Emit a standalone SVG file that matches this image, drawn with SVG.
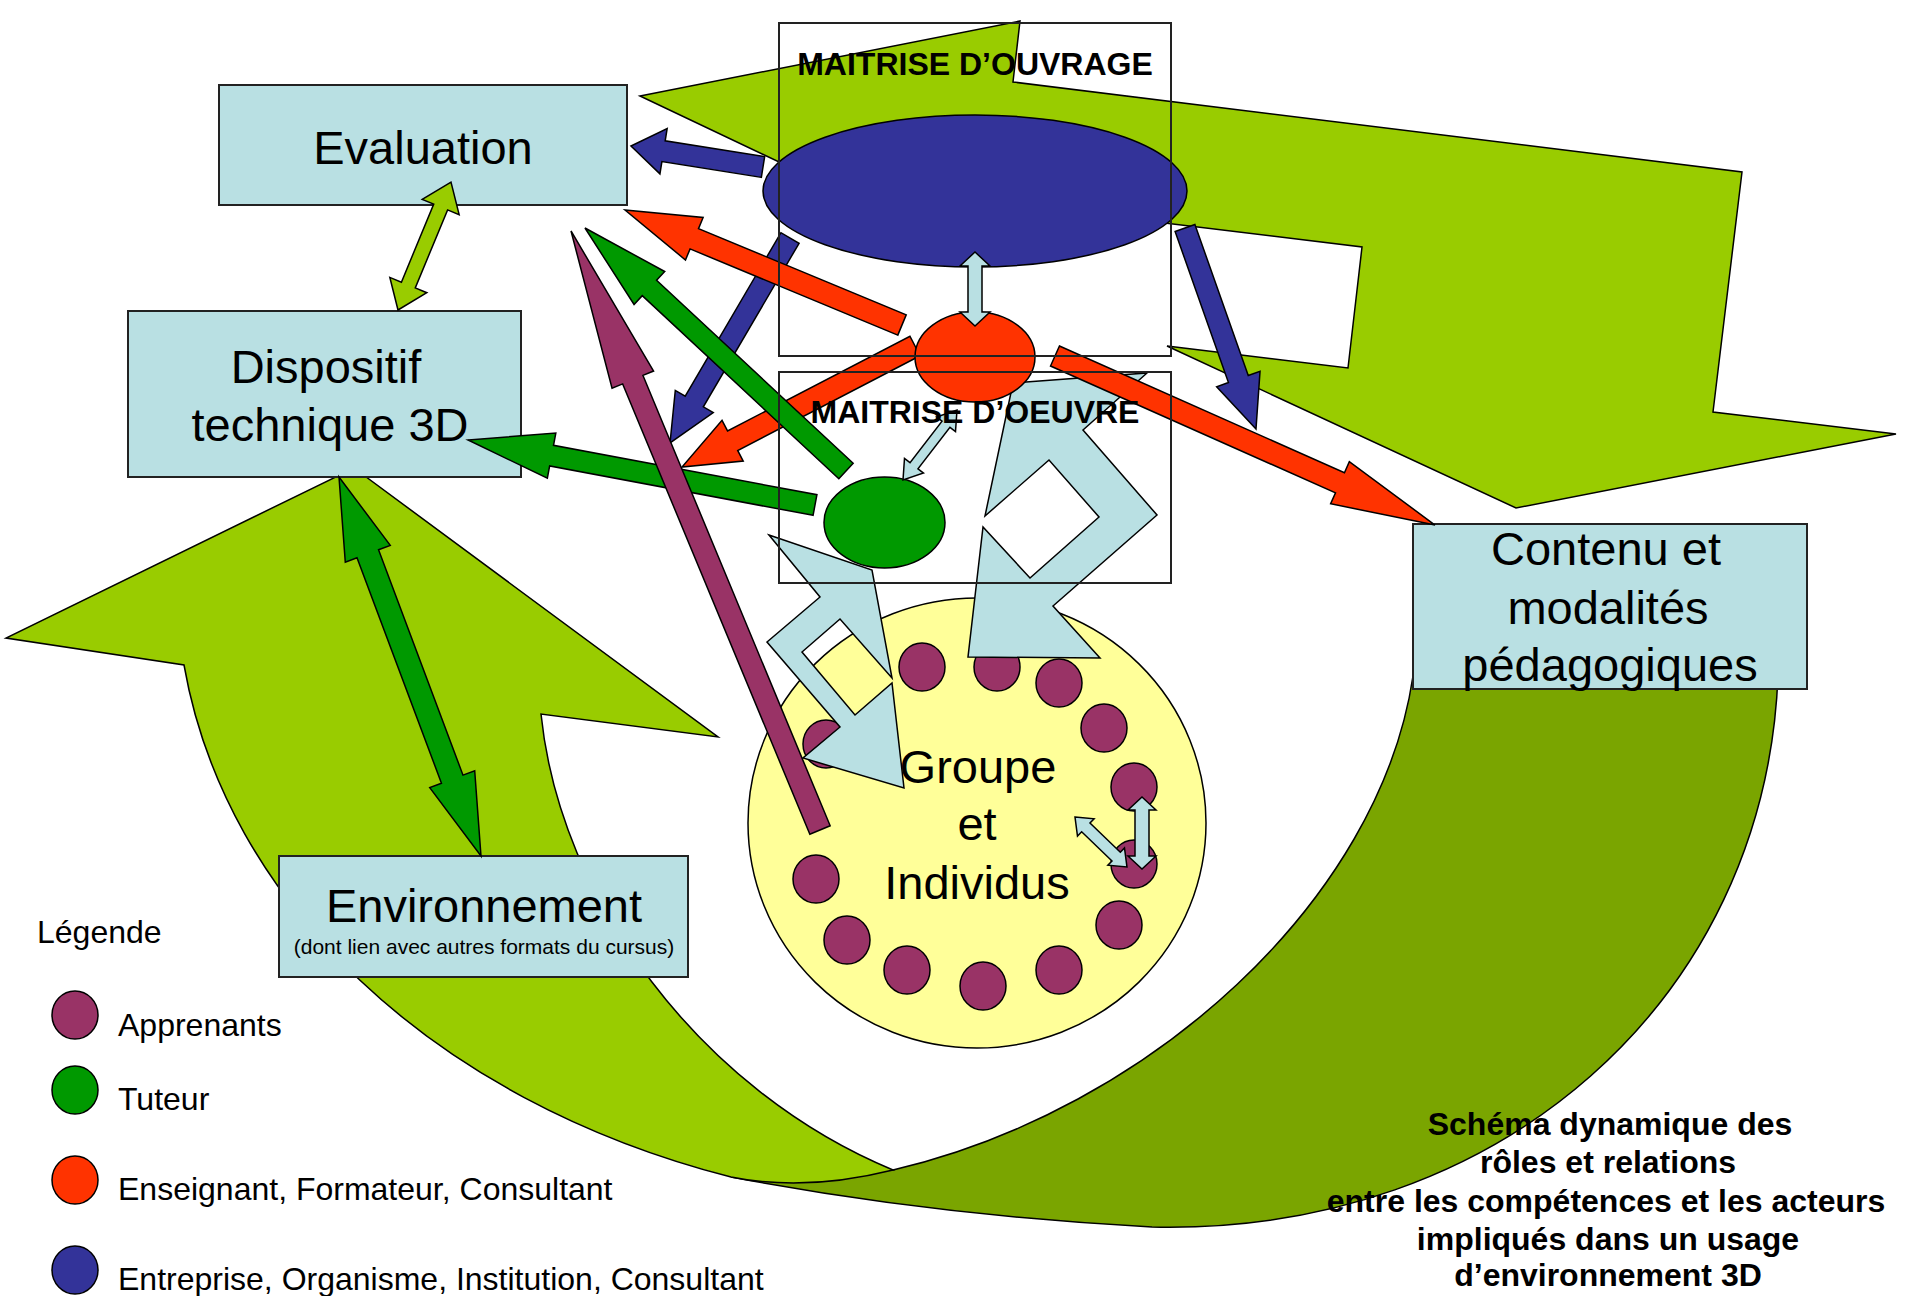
<svg xmlns="http://www.w3.org/2000/svg" width="1905" height="1296" viewBox="0 0 1905 1296">
<style>
.box{fill:#B9E0E3;stroke:#222;stroke-width:2}
.frame{fill:none;stroke:#222;stroke-width:2}
.sh{stroke:#000;stroke-width:1.5;stroke-linejoin:miter}
.t{font-family:"Liberation Sans",Arial,sans-serif;fill:#000}
.big{font-size:47px;text-anchor:middle}
.lg{font-size:32px}
.mt{font-size:32px;font-weight:bold;text-anchor:middle}
.ttl{font-size:32px;font-weight:bold;text-anchor:middle}
.lb{fill:#B9E0E3}
.lgreen{fill:#99CC00}
.dgreen{fill:#7AA500}
.blue{fill:#333399}
.red{fill:#FF3300}
.green{fill:#009900}
.purple{fill:#993366}
.dot{fill:#993366;stroke:#000;stroke-width:1.5}
</style>
<rect width="1905" height="1296" fill="#ffffff"/>

<g id="flux-cycle">
<path class="sh dgreen" d="M1413,676 L1778,676 C1765,1000 1500,1235 1152,1227 Q930,1215 731,1177 L893,1170 C1150,1110 1380,900 1413,676 Z"/>
<path class="sh lgreen" d="M354,468 L718,737 L541,714 C560,900 700,1090 893,1170 Q805,1192 731,1177 C430,1100 225,900 184,665 L6,638 Z"/>
<path class="sh lgreen" d="M640,96 L1020,21 L1013,82 L1742,172 L1713,412 L1896,434 L1516,508 L1167,346 L1348,368 L1362,247 L1007,204 L990,262 Z"/>
</g>

<g id="node-evaluation">
<rect class="box" x="219" y="85" width="408" height="120"/>
<text class="t big" x="423" y="164">Evaluation</text>
</g>
<g id="node-dispositif">
<rect class="box" x="128" y="311" width="393" height="166"/>
<text class="t big" x="326" y="383">Dispositif</text>
<text class="t big" x="330" y="441">technique 3D</text>
</g>
<g id="node-environnement">
<rect class="box" x="279" y="856" width="409" height="121"/>
<text class="t big" x="484" y="922">Environnement</text>
<text class="t" x="484" y="954" font-size="21" text-anchor="middle">(dont lien avec autres formats du cursus)</text>
</g>
<g id="node-contenu">
<rect class="box" x="1413" y="524" width="394" height="165"/>
<text class="t big" x="1606" y="565">Contenu et</text>
<text class="t big" x="1608" y="624">modalités</text>
<text class="t big" x="1610" y="681">pédagogiques</text>
</g>

<g id="node-groupe">
<ellipse cx="977" cy="823" rx="229" ry="225" fill="#FFFF99" stroke="#000" stroke-width="1.5"/>
<ellipse class="dot" cx="922" cy="667" rx="23" ry="24"/>
<ellipse class="dot" cx="997" cy="667" rx="23" ry="24"/>
<ellipse class="dot" cx="1059" cy="683" rx="23" ry="24"/>
<ellipse class="dot" cx="1104" cy="728" rx="23" ry="24"/>
<ellipse class="dot" cx="1134" cy="787" rx="23" ry="24"/>
<ellipse class="dot" cx="1134" cy="864" rx="23" ry="24"/>
<ellipse class="dot" cx="1119" cy="925" rx="23" ry="24"/>
<ellipse class="dot" cx="1059" cy="970" rx="23" ry="24"/>
<ellipse class="dot" cx="983" cy="986" rx="23" ry="24"/>
<ellipse class="dot" cx="907" cy="970" rx="23" ry="24"/>
<ellipse class="dot" cx="847" cy="940" rx="23" ry="24"/>
<ellipse class="dot" cx="816" cy="879" rx="23" ry="24"/>
<ellipse class="dot" cx="826" cy="744" rx="23" ry="24"/>
<text class="t big" x="978" y="783">Groupe</text>
<text class="t big" x="977" y="840">et</text>
<text class="t big" x="977" y="899">Individus</text>
</g>

<g id="acteur-entreprise">
<ellipse class="sh blue" cx="975" cy="191" rx="212" ry="76"/>
</g>

<g id="echanges-groupe">
<polygon class="sh lb" points="769,535 872,570 892,678 840,619 802,652 855,715 892,683 904,788 803,758 840,727 767,642 820,597"/>
<polygon class="sh lb" points="1013,383 1147,373 1083,430 1157,515 1053,606 1100,658 968,657 983,527 1030,578 1099,517 1049,460 985,516"/>
</g>

<g id="acteur-tuteur">
<ellipse class="sh green" cx="884.5" cy="522.5" rx="60.5" ry="45.5"/>
</g>

<g id="connectors">
<polygon class="sh blue" transform="translate(763,167) rotate(-170.96)" points="0,-10.5 100.7,-10.5 100.7,-23 133.7,0 100.7,23 100.7,10.5 0,10.5"/>
<polygon class="sh blue" transform="translate(790,238) rotate(120.34)" points="0,-10.5 189.5,-10.5 189.5,-22 237.5,0 189.5,22 189.5,10.5 0,10.5"/>
<polygon class="sh blue" transform="translate(1185,228) rotate(70.55)" points="0,-10.5 160.2,-10.5 160.2,-23 213.2,0 160.2,23 160.2,10.5 0,10.5"/>
<polygon class="sh green" transform="translate(815,505) rotate(-169.39)" points="0,-10.5 268,-10.5 268,-23 353,0 268,23 268,10.5 0,10.5"/>
<polygon class="sh red" transform="translate(902,325) rotate(-157.45)" points="0,-11 224.9,-11 224.9,-23 299.9,0 224.9,23 224.9,11 0,11"/>
<polygon class="sh red" transform="translate(915,346) rotate(152.56)" points="0,-11 205.5,-11 205.5,-23 262.5,0 205.5,23 205.5,11 0,11"/>
<polygon class="sh red" transform="translate(1055,356) rotate(23.98)" points="0,-11 311.9,-11 311.9,-23 415.9,0 311.9,23 311.9,11 0,11"/>
<polygon class="sh green" transform="translate(846,471) rotate(-137.05)" points="0,-10.5 268.6,-10.5 268.6,-22.5 356.6,0 268.6,22.5 268.6,10.5 0,10.5"/>
<polygon class="sh purple" transform="translate(820,830) rotate(-112.57)" points="0,-11 487.7,-11 487.7,-22.5 648.7,0 487.7,22.5 487.7,11 0,11"/>
</g>

<g id="acteur-enseignant">
<ellipse class="sh red" cx="975" cy="357" rx="60" ry="45"/>
</g>

<g id="connectors-doubles">
<polygon class="sh lgreen" transform="translate(398,310) rotate(-67.5)" points="0,0 27,-20 27,-7.5 111.5,-7.5 111.5,-20 138.5,0 111.5,20 111.5,7.5 27,7.5 27,20"/>
<polygon class="sh green" transform="translate(339,477) rotate(69.46)" points="0,0 82,-24 82,-11.5 322.7,-11.5 322.7,-24 404.7,0 322.7,24 322.7,11.5 82,11.5 82,24"/>
<polygon class="sh lb" transform="translate(975,252) rotate(90)" points="0,0 14,-15 14,-7 60,-7 60,-15 74,0 60,15 60,7 14,7 14,15"/>
<polygon class="sh lb" transform="translate(903,480) rotate(-52.35)" points="0,0 18,-12 18,-5 70.4,-5 70.4,-12 88.4,0 70.4,12 70.4,5 18,5 18,12"/>
<polygon class="sh lb" transform="translate(1142,797) rotate(90)" points="0,0 13,-14 13,-7 59,-7 59,-14 72,0 59,14 59,7 13,7 13,14"/>
<polygon class="sh lb" transform="translate(1075,817) rotate(43.88)" points="0,0 15,-12 15,-6 57.1,-6 57.1,-12 72.1,0 57.1,12 57.1,6 15,6 15,12"/>
</g>

<g id="maitrise-ouvrage">
<rect class="frame" x="779" y="23" width="392" height="333"/>
<text class="t mt" x="975" y="75">MAITRISE D’OUVRAGE</text>
</g>
<g id="maitrise-oeuvre">
<rect class="frame" x="779" y="372" width="392" height="211"/>
<text class="t mt" x="975" y="423">MAITRISE D’OEUVRE</text>
</g>

<g id="legende">
<text class="t lg" x="37" y="943">Légende</text>
<ellipse class="dot" cx="75" cy="1015" rx="23" ry="24"/>
<text class="t lg" x="118" y="1036">Apprenants</text>
<ellipse class="sh green" cx="75" cy="1090" rx="23" ry="24"/>
<text class="t lg" x="118" y="1110">Tuteur</text>
<ellipse class="sh red" cx="75" cy="1180" rx="23" ry="24"/>
<text class="t lg" x="118" y="1200">Enseignant, Formateur, Consultant</text>
<ellipse class="sh blue" cx="75" cy="1270" rx="23" ry="24"/>
<text class="t lg" x="118" y="1290">Entreprise, Organisme, Institution, Consultant</text>
</g>

<g id="titre">
<text class="t ttl" x="1610" y="1135">Schéma dynamique des</text>
<text class="t ttl" x="1608" y="1173">rôles et relations</text>
<text class="t ttl" x="1606" y="1212">entre les compétences et les acteurs</text>
<text class="t ttl" x="1608" y="1250">impliqués dans un usage</text>
<text class="t ttl" x="1608" y="1286">d’environnement 3D</text>
</g>
</svg>
